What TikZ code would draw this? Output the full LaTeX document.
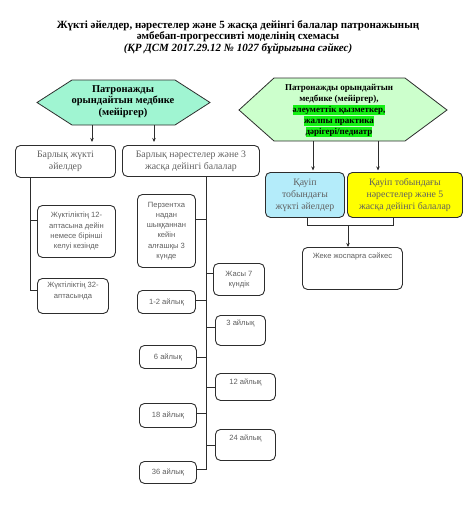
\documentclass[tikz,border=0pt]{standalone}
\usepackage{fontspec}
\setmainfont{Liberation Serif}
\setsansfont{Liberation Sans}
\usetikzlibrary{arrows.meta}
\definecolor{hexmint}{RGB}{160,245,210}
\definecolor{hexpale}{RGB}{204,255,204}
\definecolor{hlgreen}{RGB}{20,240,20}
\definecolor{riskblue}{RGB}{180,236,250}
\definecolor{riskyellow}{RGB}{255,255,0}
\definecolor{txtgray}{RGB}{95,95,95}
\definecolor{edge}{RGB}{45,45,45}
\newcommand\bx[8]{\node[#1, inner sep=0pt, anchor=north west] (#2) at (#3,#4) {\parbox[c][#6pt][#7]{#5pt}{\centering #8}};}
\newcommand\hl[1]{{\setlength\fboxsep{0pt}\colorbox{hlgreen}{\rule[-2.6pt]{0pt}{10.6pt}#1}}}
\begin{document}
\begin{tikzpicture}[x=1pt,y=-1pt,
  rbox/.style={draw=edge, line width=0.9pt, rounded corners=5pt, text=txtgray},
  serifbox/.style={rbox, font=\fontsize{9.8}{12}\selectfont},
  sansbox/.style={rbox, font=\sffamily\fontsize{7.6}{10.3}\selectfont},
  hexshape/.style={draw=edge, line width=0.8pt},
  link/.style={draw=edge, line width=0.9pt},
  arr/.style={link, -{Stealth[length=4pt,width=3.5pt]}}]
\useasboundingbox (0,0) rectangle (470,514);

% title
\node[align=center, font=\bfseries\fontsize{11}{11.3}\selectfont] (title) at (238,37)
 {Жүкті әйелдер, нәрестелер және 5 жасқа дейінгі балалар патронажының\\
  әмбебап-прогрессивті моделінің схемасы\\
  \textit{(ҚР ДСМ 2017.29.12 № 1027 бұйрығына сәйкес)}};

% hexagons
\draw[hexshape, fill=hexmint] (37,102.5) -- (72,80) -- (175,80) -- (210,102.5) -- (175,125) -- (72,125) -- cycle;
\node[align=center, font=\bfseries\fontsize{10.5}{11.6}\selectfont] (hexL) at (123,101.5)
 {Патронажды\\орындайтын медбике\\(мейіргер)};
\draw[hexshape, fill=hexpale] (239,110) -- (274,78) -- (405,78) -- (447,110) -- (405,141) -- (274,141) -- cycle;
\node[align=center, font=\bfseries\fontsize{9}{11}\selectfont] (hexR) at (339,111)
 {Патронажды орындайтын\\медбике (мейіргер),\\\hl{әлеуметтік қызметкер,}\\\hl{жалпы практика}\\\hl{дәрігері/педиатр}};
\coordinate (hLa) at (92,125);
\coordinate (hLb) at (154,125);
\coordinate (hRa) at (313,141);
\coordinate (hRb) at (378,141);

% top-level boxes
\bx{serifbox}{A}{15}{145}{100}{32}{c}{Барлық жүкті\\әйелдер}
\bx{serifbox}{B}{122}{145}{137}{31}{c}{Барлық нәрестелер және 3\\жасқа дейінгі балалар}
\bx{serifbox, fill=riskblue}{C}{265}{172}{79}{45}{c}{Қауіп\\тобындағы\\жүкті әйелдер}
\bx{serifbox, fill=riskyellow}{D}{347}{172}{115}{45}{c}{Қауіп тобындағы\\нәрестелер және 5\\жасқа дейінгі балалар}
\bx{sansbox}{E}{302}{247}{100}{42}{t}{\vspace*{5pt}Жеке жоспарға сәйкес}

% left column
\bx{sansbox}{F}{37}{205}{78}{52}{c}{Жүктіліктің 12-\\аптасына дейін\\немесе бірінші\\келуі кезінде}
\bx{sansbox}{G}{37}{278}{71}{35}{t}{\vspace*{4pt}Жүктіліктің 32-\\аптасында}

% middle column, left side
\bx{sansbox}{H}{137}{194}{58}{73}{c}{Перзентха\\надан\\шыққаннан\\кейін\\алғашқы 3\\күнде}
\bx{sansbox}{I}{137}{290}{58}{23}{c}{1-2 айлық}
\bx{sansbox}{J}{139}{345}{57}{23}{c}{6 айлық}
\bx{sansbox}{K}{139}{403}{57}{24}{c}{18 айлық}
\bx{sansbox}{L}{139}{461}{57}{22}{c}{36 айлық}

% middle column, right side
\bx{sansbox}{M}{213}{263}{51}{32}{c}{Жасы 7\\күндік}
\bx{sansbox}{N}{215}{315}{50}{30}{t}{\vspace*{4pt}3 айлық}
\bx{sansbox}{O}{215}{373}{60}{27}{t}{\vspace*{5pt}12 айлық}
\bx{sansbox}{P}{215}{429}{60}{31}{t}{\vspace*{5pt}24 айлық}

% arrows from hexagons
\draw[arr] (hLa) -- ([yshift=3pt]hLa |- A.north);
\draw[arr] (hLb) -- ([yshift=3pt]hLb |- B.north);
\draw[arr] (hRa) -- ([yshift=1.5pt]hRa |- C.north);
\draw[arr] (hRb) -- ([yshift=1.5pt]hRb |- D.north);

% left column connectors
\coordinate (vl) at (30,0);
\draw[link] (A.south -| vl) -- ([yshift=5.5pt]vl |- G.west) -- ([yshift=5.5pt]G.west);
\draw[link] ([yshift=11pt]vl |- F.west) -- ([yshift=11pt]F.west);

% middle column connectors
\coordinate (vm) at (206,0);
\draw[link] (B.south -| vm) -- ([yshift=3pt]vm |- L.east) -- ([yshift=3pt]L.east);
\draw[link] ([yshift=12pt]H.east) -- ([yshift=12pt]vm |- H.east);
\draw[link] ([yshift=2pt]I.east) -- ([yshift=2pt]vm |- I.east);
\draw[link] (J.east) -- (vm |- J.east);
\draw[link] ([yshift=2pt]K.east) -- ([yshift=2pt]vm |- K.east);
\draw[link] ([yshift=6pt]vm |- M.west) -- ([yshift=6pt]M.west);
\draw[link] ([yshift=3pt]vm |- N.west) -- ([yshift=3pt]N.west);
\draw[link] (vm |- O.west) -- (O.west);
\draw[link] (vm |- P.west) -- (P.west);

% right side connectors
\coordinate (jn) at (348,225);
\draw[link] (C.south -| 307,0) -- (307,225) -- (393,225) -- (D.south -| 393,0);
\draw[arr] (jn) -- (jn |- E.north);
\end{tikzpicture}
\end{document}
